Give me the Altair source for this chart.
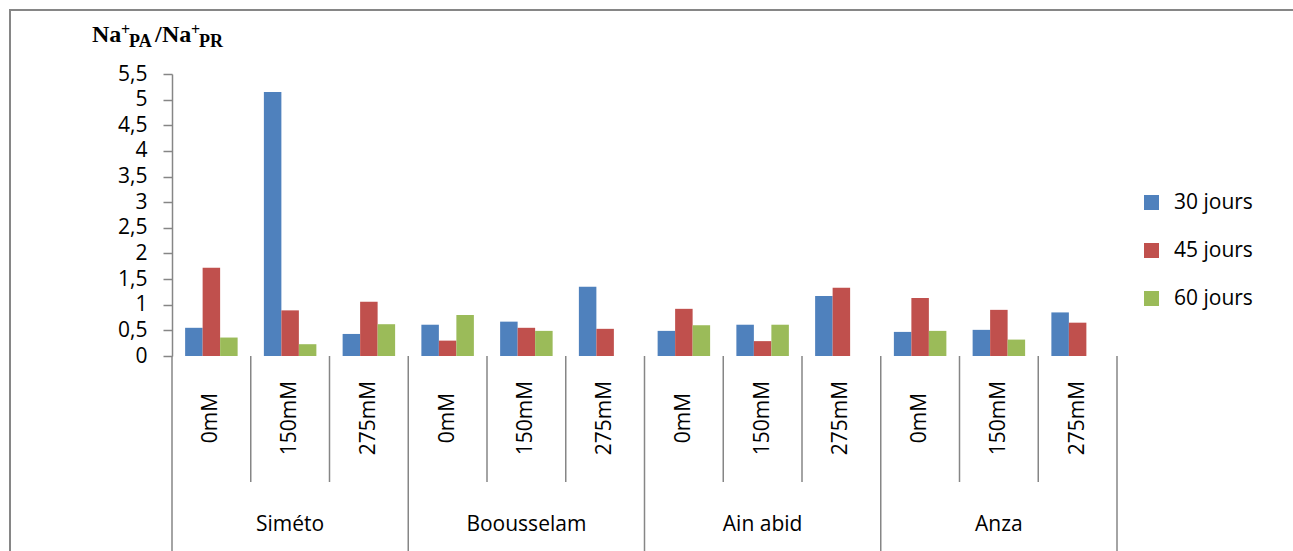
import altair as alt
import pandas as pd

groups = ["Siméto", "Boousselam", "Ain abid", "Anza"]
concs = ["0mM", "150mM", "275mM"]
series = ["30 jours", "45 jours", "60 jours"]
colors = ["#4F81BD", "#C0504D", "#9BBB59"]

j30 = [0.55, 5.15, 0.43, 0.61, 0.67, 1.35, 0.49, 0.61, 1.17, 0.47, 0.51, 0.85]
j45 = [1.72, 0.89, 1.06, 0.30, 0.55, 0.53, 0.92, 0.29, 1.33, 1.13, 0.90, 0.65]
j60 = [0.36, 0.23, 0.62, 0.80, 0.49, None, 0.60, 0.61, None, 0.49, 0.32, None]

y_ticks = [0, 0.5, 1, 1.5, 2, 2.5, 3, 3.5, 4, 4.5, 5, 5.5]

cats = [f"{g}|{c}" for g in groups for c in concs]
rows = []
for i, cat in enumerate(cats):
    for s, vals in zip(series, [j30, j45, j60]):
        if vals[i] is not None:
            rows.append({"cat": cat, "series": s, "value": vals[i]})
df = pd.DataFrame(rows)

lab_df = pd.DataFrame({"cat": cats, "conc": [c for g in groups for c in concs],
                       "kind": ["group" if i % 3 == 0 else "inner" for i in range(len(cats))]})
grp_df = pd.DataFrame({"cat": [f"{g}|{concs[1]}" for g in groups], "group": groups})
end_df = pd.DataFrame({"cat": [cats[-1]]})

W, H = 945, 282
GRAY = "#868686"
FONT = "Open Sans"

xscale = alt.Scale(domain=cats, paddingInner=0, paddingOuter=0)

bars = alt.Chart(df).mark_bar().encode(
    x=alt.X("cat:N", scale=xscale,
            axis=alt.Axis(labels=False, ticks=False, title=None, grid=False,
                          domainColor=GRAY, domainWidth=1.5)),
    xOffset=alt.XOffset("series:N", scale=alt.Scale(domain=series, paddingInner=0, paddingOuter=0.75)),
    y=alt.Y("value:Q", scale=alt.Scale(domain=[0, 5.5], nice=False),
            axis=alt.Axis(values=y_ticks, title=None, grid=False, domainColor=GRAY, domainWidth=1.5,
                          tickColor=GRAY, tickWidth=1.5, tickSize=9, labelPadding=16,
                          labelFont=FONT, labelFontSize=21, labelColor="#000000",
                          labelExpr="replace(toString(datum.value), '.', ',')")),
    color=alt.Color("series:N", scale=alt.Scale(domain=series, range=colors),
                    legend=alt.Legend(title=None, orient="none", legendX=969, legendY=118,
                                      symbolType="square", symbolSize=225, symbolStrokeWidth=0,
                                      labelFont=FONT, labelFontSize=21, labelColor="#000000",
                                      labelOffset=12, rowPadding=26, padding=0)),
)

inner = alt.Chart(lab_df).transform_filter("datum.kind == 'inner'").mark_rule(
    color=GRAY, strokeWidth=1.5).encode(
    x=alt.X("cat:N", scale=xscale, axis=None, bandPosition=0),
    y=alt.value(H), y2=alt.value(H + 126))

grp_rules = alt.Chart(lab_df).transform_filter("datum.kind == 'group'").mark_rule(
    color=GRAY, strokeWidth=1.5).encode(
    x=alt.X("cat:N", scale=xscale, axis=None, bandPosition=0),
    y=alt.value(H), y2=alt.value(H + 220))

end_rule = alt.Chart(end_df).mark_rule(color=GRAY, strokeWidth=1.5).encode(
    x=alt.X("cat:N", scale=xscale, axis=None, bandPosition=1),
    y=alt.value(H), y2=alt.value(H + 220))

sub_labels = alt.Chart(lab_df).mark_text(
    angle=270, align="center", baseline="middle", font=FONT, fontSize=21, color="#000000").encode(
    x=alt.X("cat:N", scale=xscale, axis=None, bandPosition=0.5),
    y=alt.value(H + 62), text="conc:N")

grp_labels = alt.Chart(grp_df).mark_text(
    align="center", baseline="middle", font=FONT, fontSize=21, color="#000000").encode(
    x=alt.X("cat:N", scale=xscale, axis=None, bandPosition=0.5),
    y=alt.value(H + 169), text="group:N")

border = alt.Chart(end_df).mark_rect(filled=False, stroke=GRAY, strokeWidth=2).encode(
    x=alt.value(-162), x2=alt.value(1150), y=alt.value(-64), y2=alt.value(H + 260))

def piece(txt, x_abs, base_abs, size):
    return alt.Chart(end_df).mark_text(
        text=txt, align="left", baseline="alphabetic", font="Liberation Serif",
        fontWeight="bold", fontSize=size, color="#000000").encode(
        x=alt.value(x_abs - 172), y=alt.value(base_abs - 74))

title = (piece("Na", 92, 42, 24) + piece("+", 121, 35, 16) + piece("PA", 129, 47, 18)
         + piece("/", 155, 42, 24) + piece("Na", 162, 42, 24) + piece("+", 191, 35, 16)
         + piece("PR", 199, 47, 18))

chart = alt.layer(border, bars, inner, grp_rules, end_rule, sub_labels, grp_labels, title).properties(
    width=W, height=H,
    background="white",
    autosize=alt.AutoSizeParams(type="none"),
    padding={"left": 172, "top": 74, "right": 176, "bottom": 195},
).configure_view(stroke=None)

chart.save("out.html", embed_options={"renderer": "svg", "actions": False})
